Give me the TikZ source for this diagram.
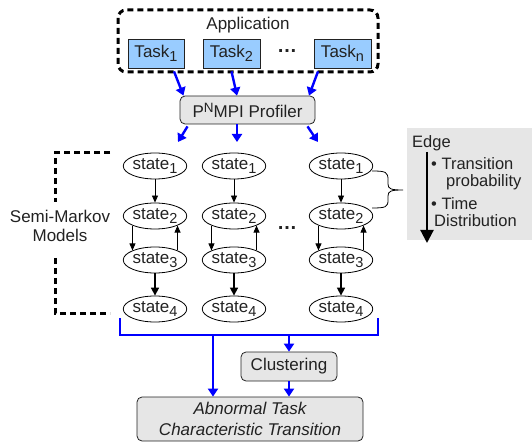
\documentclass[tikz,border=0pt]{standalone}
\usepackage{fontspec}
\setmainfont{Liberation Sans}
\usetikzlibrary{shapes.geometric,arrows.meta}
\definecolor{taskblue}{HTML}{99CCFF}
\definecolor{boxgray}{HTML}{E6E6E6}
\definecolor{txt}{HTML}{222222}
\newcommand\mysub[1]{\raisebox{-4pt}{\fontsize{14.5}{14.5}\selectfont #1}}
\newcommand\mysup[1]{\raisebox{5pt}{\fontsize{13.5}{13.5}\selectfont #1}}
\begin{document}
\begin{tikzpicture}[x=1pt,y=-1pt, font=\fontsize{17}{19}\selectfont, text=txt,
  taskbox/.style={draw=txt, fill=taskblue, minimum height=29, inner sep=0, line width=0.8},
  graybox/.style={draw=txt, fill=boxgray, rounded corners=5, line width=0.8, inner sep=0},
  st/.style={ellipse, draw=black, minimum width=63, minimum height=26, inner sep=0, line width=0.8},
  flow/.style={blue, line width=2.4, -{Triangle[width=10,length=8]}},
  bl/.style={blue, line width=2.4},
  sa/.style={black, line width=0.8, -{Triangle[width=6,length=7]}},
  sb/.style={black, line width=1.6, -{Triangle[width=8,length=8]}},
  dsh/.style={black, line width=3, dash pattern=on 6 off 4},
  dots/.style={font=\fontsize{20}{20}\selectfont\bfseries}]
\useasboundingbox (0,0) rectangle (532,443);
% application
\draw[dsh, rounded corners=8] (118,10) rectangle (378,72);
\node (app) at (248,25) {Application};
\node[taskbox, minimum width=56] (t1) at (156,53.5) {Task\mysub{1}};
\node[taskbox, minimum width=57] (t2) at (231.5,53.5) {Task\mysub{2}};
\node[dots] (tdots) at (287,51) {…};
\node[taskbox, minimum width=57] (tn) at (342.5,53.5) {Task\mysub{n}};
% profiler
\node[graybox, minimum width=135, minimum height=28] (prof) at (247.5,110) {P\mysup{N}MPI Profiler};
\draw[flow] ([xshift=18,yshift=-3]t1.south) -- ([xshift=-64]prof.north);
\draw[flow] ([yshift=-3]t2.south) -- ([xshift=-10.5]prof.north);
\draw[flow] ([xshift=-24.5,yshift=-3]tn.south) -- ([xshift=61.5]prof.north);
% states
\foreach \c/\x in {1/155,2/234,3/341}{
  \node[st] (c\c s1) at (\x,166) {state\mysub{1}};
  \node[st] (c\c s2) at (\x,216) {state\mysub{2}};
  \node[st] (c\c s3) at (\x,260) {state\mysub{3}};
  \node[st] (c\c s4) at (\x,309) {state\mysub{4}};
  \draw[sa] (c\c s1) -- (c\c s2);
  \draw[sa] (c\c s2.-157) -- (c\c s3.157);
  \draw[sa] (c\c s3.23) -- (c\c s2.-23);
  \draw[sb] (c\c s3) -- (c\c s4);
}
\node[dots] (sdots) at (287,228) {…};
\coordinate (p1) at (178,142);
\coordinate (p2) at (237,142);
\coordinate (p3) at (318,142);
\draw[flow] ([xshift=-60,yshift=-2]prof.south) -- (p1);
\draw[flow] ([xshift=-10.5]prof.south) -- (p2);
\draw[flow] ([xshift=60,yshift=-2]prof.south) -- (p3);
% semi-markov bracket
\draw[dsh] (110,153) -- (55,153) -- (55,202);
\draw[dsh] (55,258) -- (55,313) -- (110,313);
\node[align=center] (smm) at (60,226) {Semi-Markov\\Models};
% brace
\draw[black, line width=0.8] (372,171) .. controls (386,171) and (388,172) .. (388,180)
  -- (388,184) .. controls (388,189) and (391,190) .. (403,190)
  .. controls (391,190) and (388,191) .. (388,196) -- (388,200)
  .. controls (388,207) and (386,208) .. (372,208);
% edge box
\fill[boxgray] (407,128) rectangle (532,240);
\begin{scope}[font=\fontsize{16.5}{18}\selectfont]
\node[anchor=base west, inner sep=0] (edge) at (412,148) {Edge};
\node[anchor=base west, inner sep=0] (e1) at (431,170) {• Transition};
\node[anchor=base west, inner sep=0] (e2) at (446,187) {probability};
\node[anchor=base west, inner sep=0] (e3) at (431,210) {• Time};
\node[anchor=base west, inner sep=0] (e4) at (434,227) {Distribution};
\end{scope}
\draw[black, line width=2.2, -{Triangle[width=13,length=13]}] (427,152) -- (427,243);
% bottom
\coordinate (bl) at (120,318);
\coordinate (br) at (378,318);
\draw[bl] (bl) -- (120,335) -- (378,335) -- (br);
\node[graybox, minimum width=96, minimum height=29] (clu) at (289,366.5) {Clustering};
\node[graybox, minimum width=226, minimum height=44, align=center, font=\fontsize{17}{21}\selectfont\itshape] (abn) at (250,419) {Abnormal Task\\Characteristic Transition};
\coordinate (j1) at (213,335);
\coordinate (j2) at (289,335);
\draw[flow] (j1) -- (j1 |- abn.north);
\draw[flow] (j2) -- (clu.north);
\draw[flow] (clu.south) -- (clu.south |- abn.north);
\end{tikzpicture}
\end{document}
